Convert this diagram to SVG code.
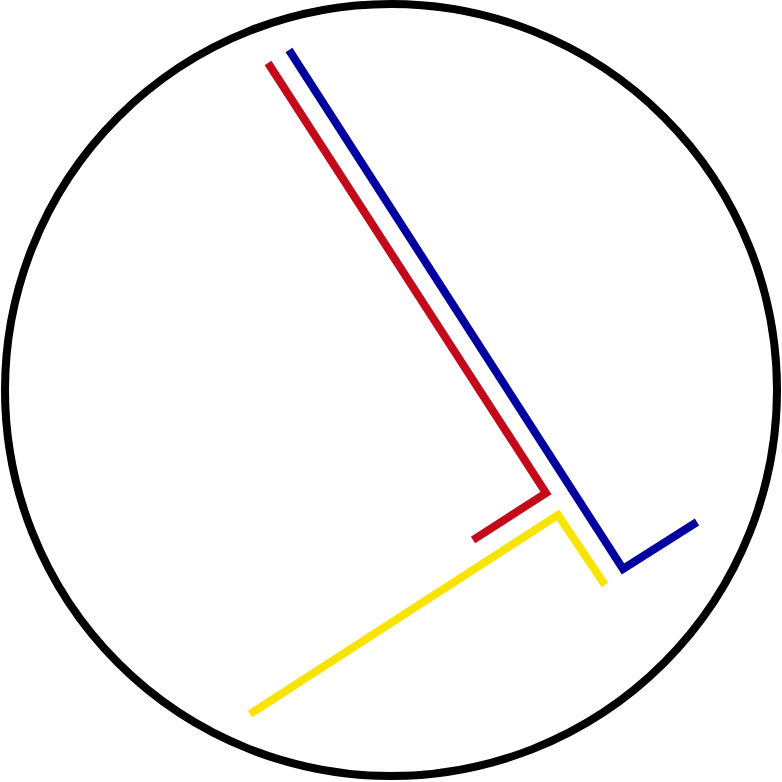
<svg xmlns="http://www.w3.org/2000/svg" width="782" height="782" viewBox="0 0 782 782">
<style>
.l{fill:none;stroke-width:8;stroke-linejoin:miter;stroke-linecap:butt}
</style>
<rect width="782" height="782" fill="#fff"/>
<circle cx="391" cy="390" r="386" fill="none" stroke="#000" stroke-width="8"/>
<polyline class="l" stroke="#c40a1a" points="268,63 546,493 473,540"/>
<polyline class="l" stroke="#0000a0" points="289,50 623,569 697,522"/>
<polyline class="l" stroke="#f8e400" points="250,714 558,515 605,585"/>
</svg>
